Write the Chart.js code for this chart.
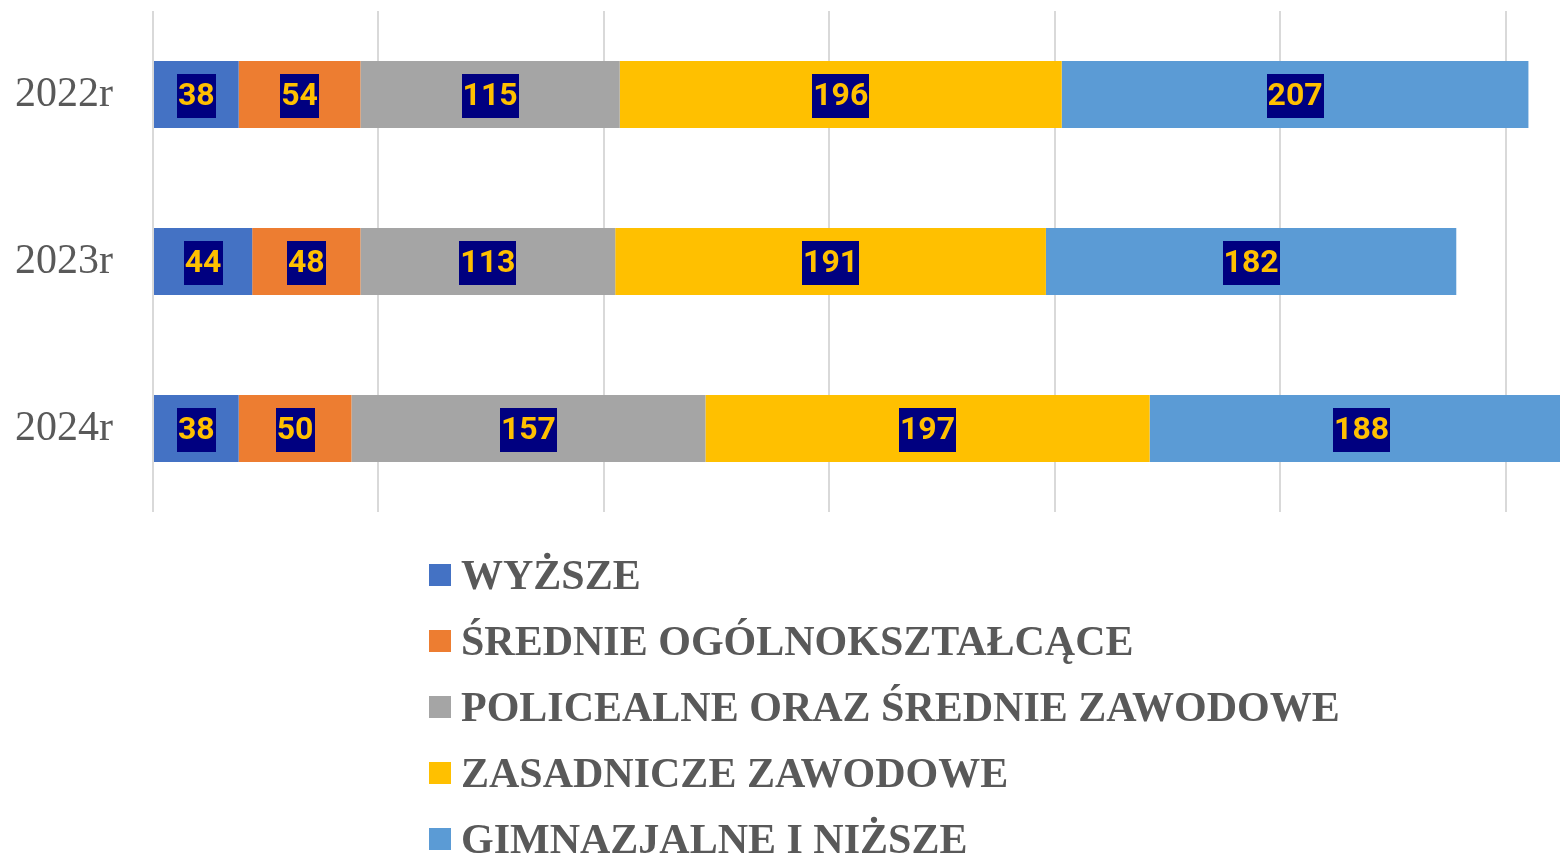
<!DOCTYPE html>
<html>
<head>
<meta charset="utf-8">
<script src="https://cdn.jsdelivr.net/npm/chart.js@4/dist/chart.umd.min.js"></script>
<style>
  html, body { margin: 0; padding: 0; background: #fff; }
  #wrap { position: relative; width: 1560px; height: 858px; overflow: hidden; }
  #chart { position: absolute; left: 0; top: 0; }
  #legend { position: absolute; left: 429px; top: 542px; margin: 0; padding: 0; list-style: none; }
  #legend li { height: 66px; display: flex; align-items: center; font: bold 42px "Liberation Serif", serif; color: #595959; white-space: nowrap; }
  #legend li span.box { display: inline-block; width: 22px; height: 22px; margin-right: 10px; }
</style>
</head>
<body>
<div id="wrap">
  <canvas id="chart" width="1560" height="858"></canvas>
  <ul id="legend"></ul>
</div>
<script>
// Years on the vertical axis
const years = ['2022r', '2023r', '2024r'];

// Series: education level
const seriesNames = [
    'WYŻSZE',
    'ŚREDNIE OGÓLNOKSZTAŁCĄCE',
    'POLICEALNE ORAZ ŚREDNIE ZAWODOWE',
    'ZASADNICZE ZAWODOWE',
    'GIMNAZJALNE I NIŻSZE'
];
const wyzsze = [38, 44, 38];
const srednieOgolne = [54, 48, 50];
const policealne = [115, 113, 157];
const zasadnicze = [196, 191, 197];
const gimnazjalne = [207, 182, 188];

const seriesColors = ['#4472C4', '#ED7D31', '#A5A5A5', '#FFC000', '#5B9BD5'];

// Labels in dark boxes in the middle of each segment
const boxLabels = {
    id: 'boxLabels',
    afterDatasetsDraw(chart) {
        const ctx = chart.ctx;
        ctx.save();
        ctx.font = 'bold 32px Roboto, sans-serif';
        ctx.textAlign = 'center';
        ctx.textBaseline = 'middle';
        chart.data.datasets.forEach((ds, i) => {
            const meta = chart.getDatasetMeta(i);
            meta.data.forEach((bar, j) => {
                const text = String(ds.data[j]);
                const cx = (bar.x + bar.base) / 2;
                const cy = bar.y;
                const w = ctx.measureText(text).width + 2;
                ctx.fillStyle = '#000080';
                ctx.fillRect(Math.round(cx - w / 2), Math.round(cy - 21), Math.round(w), 44);
                ctx.fillStyle = '#FFC000';
                ctx.fillText(text, cx, cy + 2);
            });
        });
        ctx.restore();
    }
};

const allSeries = [wyzsze, srednieOgolne, policealne, zasadnicze, gimnazjalne];

const chart = new Chart(document.getElementById('chart'), {
    type: 'bar',
    data: {
        labels: years,
        datasets: allSeries.map((values, i) => ({
            label: seriesNames[i],
            data: values,
            backgroundColor: seriesColors[i],
            borderWidth: 0,
            categoryPercentage: 0.4,
            barPercentage: 1
        }))
    },
    options: {
        indexAxis: 'y',
        responsive: false,
        animation: false,
        layout: { padding: { top: 11, right: 0, bottom: 346, left: 0 } },
        plugins: {
            legend: { display: false },
            tooltip: { enabled: false }
        },
        scales: {
            x: {
                stacked: true,
                min: 0,
                max: 624,
                ticks: { display: false, stepSize: 100 },
                border: { display: false },
                grid: {
                    drawTicks: false,
                    lineWidth: 2,
                    color: (c) => (c.tick && c.tick.value % 100 === 0) ? '#D9D9D9' : 'rgba(0,0,0,0)'
                }
            },
            y: {
                stacked: true,
                border: { display: false },
                grid: { display: false, drawTicks: false },
                ticks: {
                    padding: 40,
                    color: '#595959',
                    font: { family: '"Liberation Serif", serif', size: 42 }
                },
                afterFit(scale) {
                    scale.width = 153;
                    // keep the label padding from pushing the plot down
                    scale.paddingTop = 0;
                    scale.paddingBottom = 0;
                }
            }
        }
    },
    plugins: [boxLabels]
});

// Legend, one entry per line
const legend = document.getElementById('legend');
seriesNames.forEach((name, i) => {
    const li = document.createElement('li');
    const box = document.createElement('span');
    box.className = 'box';
    box.style.background = seriesColors[i];
    li.appendChild(box);
    li.appendChild(document.createTextNode(name));
    legend.appendChild(li);
});
</script>
</body>
</html>
